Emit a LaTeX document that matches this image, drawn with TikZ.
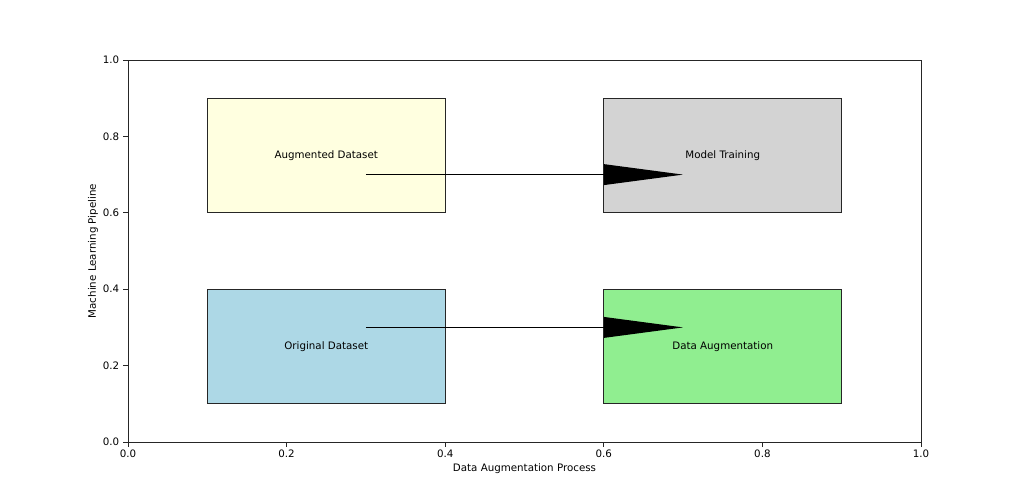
\documentclass[tikz,border=0pt]{standalone}
\usepackage{fontspec}
\setmainfont{DejaVu Sans}
\usetikzlibrary{arrows.meta}

% colours of the four stages
\definecolor{lyellow}{RGB}{255,255,224}
\definecolor{lgrey}{RGB}{211,211,211}
\definecolor{lblue}{RGB}{173,216,230}
\definecolor{lgreen}{RGB}{144,238,144}

\tikzset{
  stage/.style={draw=black!85, line width=0.6pt, inner sep=0pt,
                minimum width=4.758cm, minimum height=2.292cm},
  flow/.style={line width=0.85pt,
               -{Triangle[length=1.58cm, width=0.41cm]}},
  ticklab/.style={inner sep=0pt}
}

\begin{document}
\begin{tikzpicture}[x=15.86cm, y=7.64cm, font=\fontsize{5.85}{7}\selectfont]

% Figure margins (same proportions as the plot window)
\useasboundingbox (-0.16141,-0.14398) rectangle (1.12989,1.15707);

% The four stages of the pipeline
\node[stage, fill=lyellow] (augdata)  at (0.25,0.75) {Augmented Dataset};
\node[stage, fill=lgrey]   (training) at (0.75,0.75) {Model Training};
\node[stage, fill=lblue]   (origdata) at (0.25,0.25) {Original Dataset};
\node[stage, fill=lgreen]  (augment)  at (0.75,0.25) {Data Augmentation};

% Start and end points of the arrows
\coordinate (topstart) at (0.3,0.7);
\coordinate (topend)   at (0.7,0.7);
\coordinate (botstart) at (0.3,0.3);
\coordinate (botend)   at (0.7,0.3);

% Draw the arrows
\draw[flow] (topstart) -- (topend);
\draw[flow] (botstart) -- (botend);

% Frame of the axes
\draw[line width=0.5pt, black!85] (0,0) rectangle (1,1);

% Ticks and their labels
\foreach \t in {0.0,0.2,0.4,0.6,0.8,1.0} {
  \draw[line width=0.5pt, black!85] (\t,0) -- ++(0,-0.09cm);
  \node[ticklab, anchor=north, yshift=-0.16cm] (xt\t) at (\t,0) {\t};
  \draw[line width=0.5pt, black!85] (0,\t) -- ++(-0.09cm,0);
  \node[ticklab, anchor=east, xshift=-0.17cm] (yt\t) at (0,\t) {\t};
}

% Axis titles
\node (xtitle) at (0.5,0) [yshift=-0.53cm] {Data Augmentation Process};
\node (ytitle) at (0,0.5) [xshift=-0.7cm, rotate=90] {Machine Learning Pipeline};
\end{tikzpicture}
\end{document}
